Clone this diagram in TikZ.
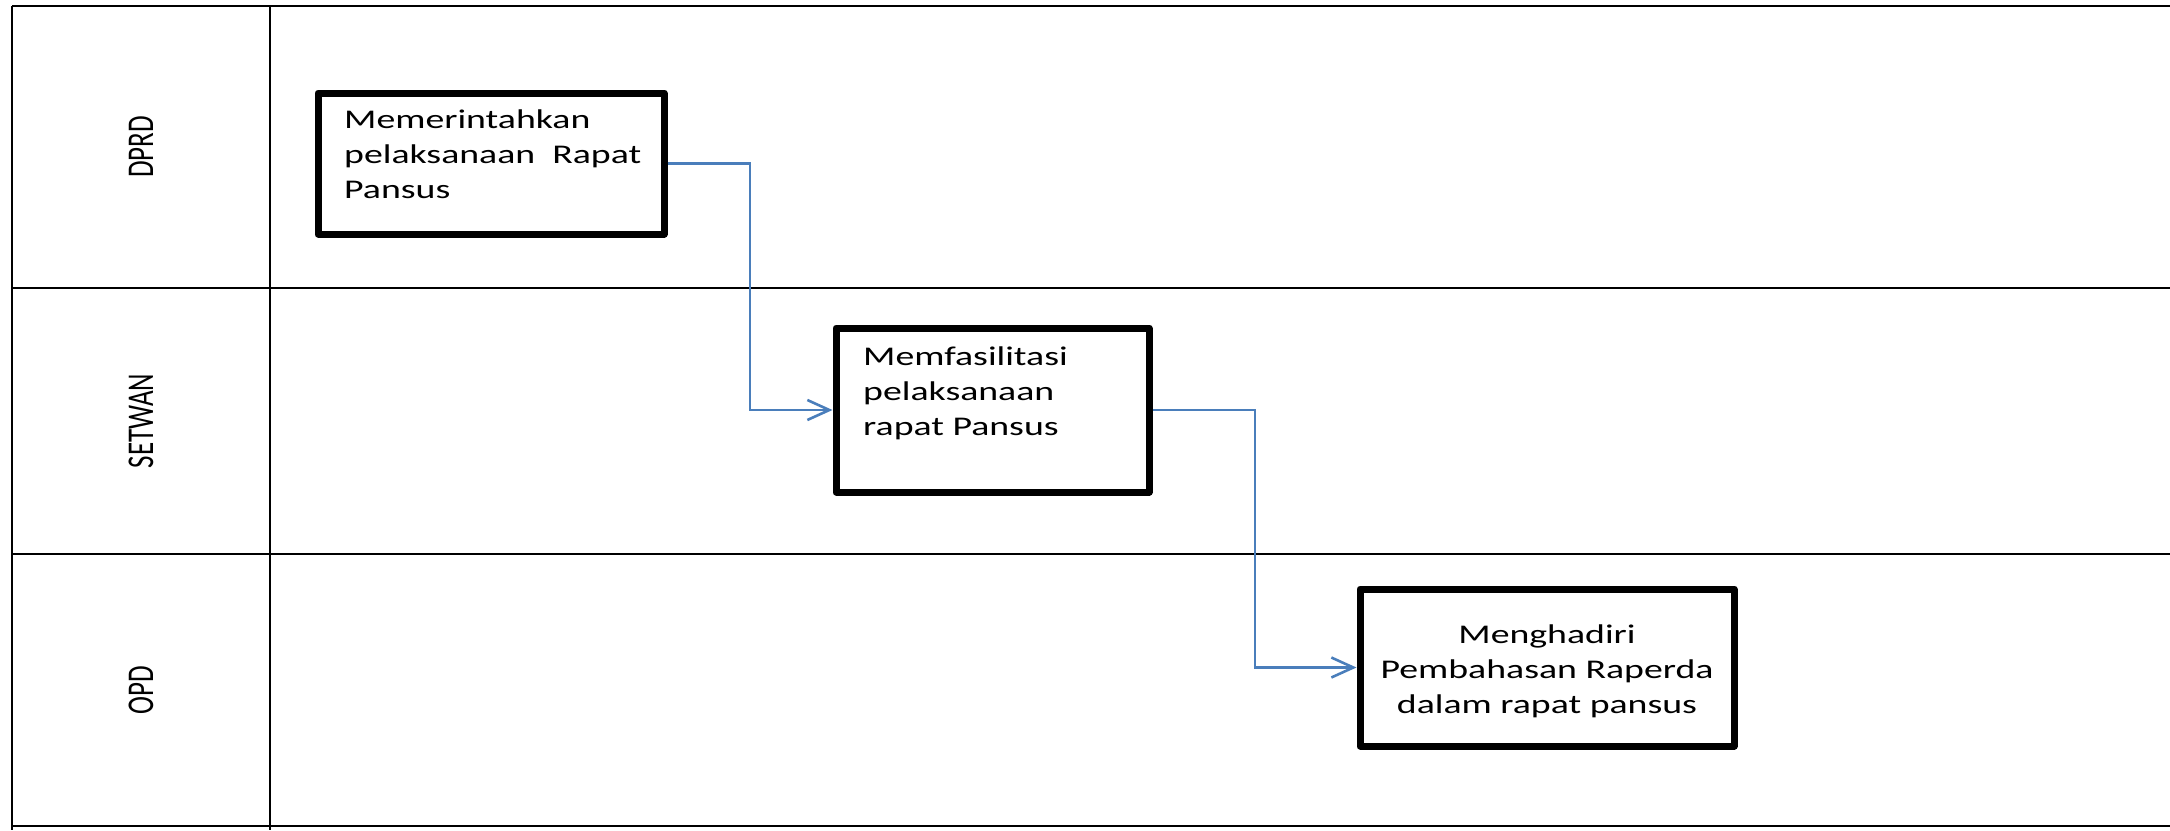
\documentclass[tikz,border=0pt]{standalone}
\usepackage{fontspec}
\setmainfont{Carlito}
\usetikzlibrary{arrows.meta}
\definecolor{flowblue}{HTML}{4A7EBB}
\newcommand\hstretch[1]{\scalebox{1.4}[1]{#1}}
\begin{document}
\begin{tikzpicture}[x=1pt,y=-1pt,
  grid/.style={line width=2.4pt, draw=black},
  stepbox/.style={draw=black, line width=7pt, line join=round, rectangle, inner sep=0pt},
  lanelabel/.style={inner sep=0pt, font=\fontsize{27}{32}\selectfont},
  boxtext/.style={inner sep=0pt, font=\fontsize{27}{35}\selectfont},
  flow/.style={draw=flowblue, line width=2.6pt, -{Straight Barb[length=22pt,width=20pt]}}
]
\useasboundingbox (0,0) rectangle (2170,830);
\fill[white] (0,0) rectangle (2170,830);
% swimlane grid
\draw[grid] (12,6) -- (2170,6);
\draw[grid] (12,288) -- (2170,288);
\draw[grid] (12,554) -- (2170,554);
\draw[grid] (12,826) -- (2170,826);
\draw[grid] (12,6) -- (12,830);
\draw[grid] (270,6) -- (270,830);
% lane labels
\node[lanelabel] (l1) at (141,147) {\hstretch{\rotatebox{90}{DPRD}}};
\node[lanelabel] (l2) at (141,421) {\hstretch{\rotatebox{90}{SETWAN}}};
\node[lanelabel] (l3) at (141,690) {\hstretch{\rotatebox{90}{OPD}}};
% boxes
\node[stepbox, minimum width=346pt, minimum height=141pt] (b1) at (491,163.5) {};
\node[stepbox, minimum width=313pt, minimum height=164pt] (b2) at (992.5,410) {};
\node[stepbox, minimum width=374pt, minimum height=157pt] (b3) at (1547,667.5) {};
% box texts
\node[boxtext, anchor=base west] (t1) at (344,128) {\hstretch{\parbox[t]{215pt}{\raggedright\fontsize{27}{35}\selectfont Memerintahkan\\pelaksanaan\ \ Rapat\\Pansus}}};
\node[boxtext, anchor=base west] (t2) at (863,365) {\hstretch{\parbox[t]{160pt}{\raggedright\fontsize{27}{35}\selectfont Memfasilitasi\\pelaksanaan\\rapat Pansus}}};
\node[boxtext, anchor=base] (t3) at (1547,643) {\hstretch{\parbox[t]{250pt}{\centering\fontsize{27}{35}\selectfont Menghadiri\\Pembahasan Raperda\\dalam rapat pansus}}};
% connectors
\coordinate (k1) at (750,0);
\coordinate (k2) at (1255,0);
\draw[flow] (b1.east) -- (b1.east -| k1) -- (k1 |- b2.west) -- (b2.west);
\draw[flow] (b2.east) -- (b2.east -| k2) -- (k2 |- b3.west) -- (b3.west);
\end{tikzpicture}
\end{document}
